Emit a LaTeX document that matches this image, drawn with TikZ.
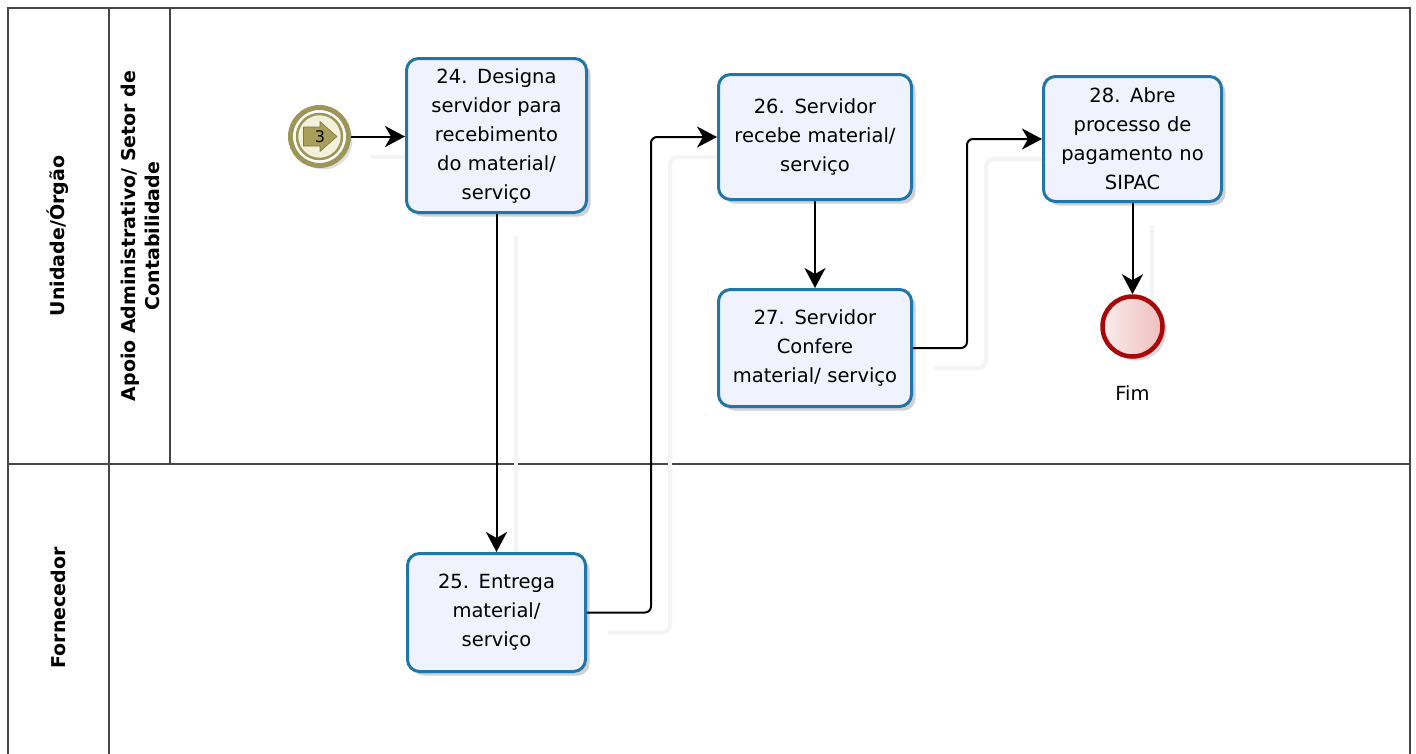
\documentclass[tikz,border=0pt]{standalone}
\usepackage{fontspec}
\setmainfont{DejaVu Sans}
\usetikzlibrary{arrows.meta,shadows}

\definecolor{taskline}{RGB}{33,118,168}
\definecolor{taskfill}{RGB}{240,243,253}
\definecolor{lanegray}{RGB}{70,70,70}
\definecolor{oliveline}{RGB}{158,150,88}
\definecolor{olivefill}{RGB}{243,241,220}
\definecolor{olivemark}{RGB}{168,158,88}
\definecolor{endred}{RGB}{168,8,8}
\definecolor{endlight}{RGB}{252,236,236}
\definecolor{enddark}{RGB}{238,190,190}
\definecolor{flowshadow}{RGB}{244,244,244}

\tikzset{
  lane/.style={draw=lanegray, line width=2pt},
  lanelabel/.style={rotate=90, align=center, font=\fontsize{19}{24}\selectfont\bfseries},
  task/.style={draw=taskline, line width=3pt, rounded corners=12pt, fill=taskfill,
    align=center, inner sep=0pt,
    font=\fontsize{19.5}{29}\selectfont,
    drop shadow={shadow xshift=4pt, shadow yshift=-4pt, opacity=0.18, fill=black}},
  flow/.style={draw=black, line width=2pt, rounded corners=6pt,
    -{Stealth[length=20pt,width=21pt,inset=6pt]}},
  flowghost/.style={draw=flowshadow, line width=4pt, rounded corners=8pt},
}

\begin{document}
\begin{tikzpicture}[x=1pt,y=-1pt]
\useasboundingbox (0,0) rectangle (1416,753);
\fill[white] (0,0) rectangle (1416,753);

% pool and lanes
\draw[lane] (8,770) -- (8,8) -- (1410,8) -- (1410,770);
\draw[lane] (109,8) -- (109,770);
\draw[lane] (170,8) -- (170,464);
\draw[lane] (8,464) -- (1410,464);

\node[lanelabel] (poolA) at (58,236) {Unidade/Órgão};
\node[lanelabel] (laneA) at (140,236) {Apoio Administrativo/ Setor de\\Contabilidade};
\node[lanelabel] (poolB) at (58,608) {Fornecedor};

% faint connector shadows
\begin{scope}[transform canvas={xshift=19pt,yshift=-20pt}]
  \draw[flowghost] (352,136.5) -- (402,136.5);
  \draw[flowghost] (496.5,216) -- (496.5,545);
  \draw[flowghost] (589,612.5) -- (651,612.5) -- (651,137) -- (700,137);
  \draw[flowghost] (915,348) -- (967,348) -- (967,139) -- (1025,139);
  \draw[flowghost] (1132.5,205) -- (1132.5,285);
\end{scope}

% start (link) event
\node[circle, minimum size=58pt, inner sep=0pt, draw=oliveline, line width=5pt, fill=white,
  drop shadow={shadow xshift=4pt, shadow yshift=-4pt, opacity=0.12, fill=black}]
  (s) at (319.5,136.5) {};
\draw[oliveline, line width=2.5pt, fill=olivefill] (s.center) circle[radius=22.5];
\draw[fill=olivemark, draw=oliveline!80!black, line width=0.6pt]
  (303.5,127) -- (320,127) -- (320,121.5) -- (337,136.5) -- (320,151.5) -- (320,146) -- (303.5,146) -- cycle;
\node[font=\fontsize{16}{16}\selectfont, inner sep=0pt] (slabel) at (320,137) {3};

% tasks
\node[task, minimum width=180pt, minimum height=154pt, text width=172pt] (t24) at (496.5,135.5)
  {24. Designa\\servidor para\\recebimento\\do material/\\serviço};
\node[task, minimum width=178pt, minimum height=118pt, text width=170pt] (t25) at (496.5,612.5)
  {25. Entrega\\material/\\serviço};
\node[task, minimum width=193pt, minimum height=125pt, text width=185pt] (t26) at (815,137)
  {26. Servidor\\recebe material/\\serviço};
\node[task, minimum width=193pt, minimum height=117pt, text width=185pt] (t27) at (815,348)
  {27. Servidor\\Confere\\material/ serviço};
\node[task, minimum width=178pt, minimum height=125pt, text width=170pt] (t28) at (1132.5,139)
  {28. Abre\\processo de\\pagamento no\\SIPAC};

% end event
\node[circle, minimum size=60pt, inner sep=0pt, draw=endred, line width=4.5pt,
  left color=endlight, right color=enddark,
  drop shadow={shadow xshift=4pt, shadow yshift=-4pt, opacity=0.15, fill=black}]
  (e) at (1132.5,326.5) {};
\node[font=\fontsize{19.5}{24}\selectfont] (elabel) at (1132.5,393) {Fim};

% sequence flows
\draw[flow] (s.east) -- (t24.west |- s.east);
\draw[flow] (t24.south) -- (t25.north);
\draw[flow] (t25.east) -- ++(64,0) |- (t26.west);
\draw[flow] (t26.south) -- (t27.north);
\draw[flow] (t27.east) -- ++(54,0) |- (t28.west);
\draw[flow] (t28.south) -- (e.north);
\end{tikzpicture}
\end{document}
